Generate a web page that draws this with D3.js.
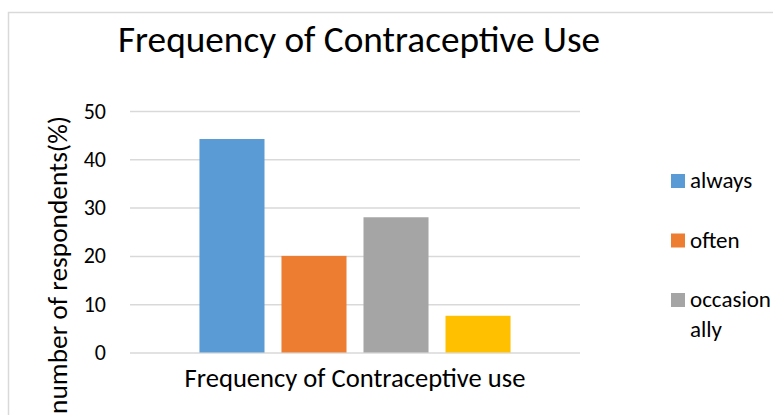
<!DOCTYPE html>
<html>
<head>
<meta charset="utf-8">
<script src="https://cdn.jsdelivr.net/npm/d3@7"></script>
<style>
  html, body { margin: 0; padding: 0; background: #ffffff; }
  svg { display: block; }
  text { font-family: Carlito, Lato, "Open Sans", sans-serif; fill: #000000; }
</style>
</head>
<body>
<svg id="chart" width="773" height="415"></svg>
<script>
// Chart data
const chartTitle = "Frequency of Contraceptive Use";
const yAxisTitle = "number of respondents(%)";
const categories = ["Frequency of Contraceptive use"];
const seriesNames = ["always", "often", "occasionally", "never"];
const seriesValues = [44.2, 20.0, 28.0, 7.6];
const seriesColors = ["#5b9bd5", "#ed7d31", "#a5a5a5", "#ffc000"];
const yTicks = [0, 10, 20, 30, 40, 50];

const svg = d3.select("#chart");

// Outer chart frame (continues past the visible page edge)
svg.append("rect")
  .attr("x", 8.5).attr("y", 12.5)
  .attr("width", 900).attr("height", 600)
  .attr("fill", "#ffffff")
  .attr("stroke", "#d9d9d9")
  .attr("stroke-width", 1.5);

// Scale a text's font size so it spans a given width
function fitWidth(sel, base, target) {
  sel.style("font-size", base + "px");
  const w = sel.node().getComputedTextLength();
  sel.style("font-size", (base * target / w).toFixed(2) + "px");
}

// Plot area
const plot = { left: 130, right: 580, top: 111, bottom: 352.5 };

const y = d3.scaleLinear().domain([0, 50]).range([plot.bottom, plot.top]);
const x0 = d3.scaleBand().domain(categories).range([plot.left, plot.right]);
const x1 = d3.scaleBand().domain(seriesNames)
  .range([0, x0.bandwidth()])
  .paddingInner(0.207)
  .paddingOuter(0.847);

// Gridlines and y tick labels
const yAxis = svg.append("g")
  .attr("transform", `translate(${plot.left},0)`)
  .call(d3.axisLeft(y).tickValues(yTicks).tickSizeInner(-(plot.right - plot.left)).tickSizeOuter(0).tickPadding(24));
yAxis.select(".domain").remove();
yAxis.selectAll(".tick line").attr("stroke", "#d9d9d9").attr("stroke-width", 1.5);
yAxis.selectAll(".tick text")
  .attr("fill", "#000000")
  .style("font-size", "22px")
  .style("font-family", "Carlito, Lato, 'Open Sans', sans-serif");

// Bars
const bars = seriesNames.map((name, i) => ({ cat: categories[0], name, value: seriesValues[i], color: seriesColors[i] }));
svg.append("g").selectAll("rect")
  .data(bars)
  .join("rect")
  .attr("x", d => x0(d.cat) + x1(d.name))
  .attr("y", d => y(d.value))
  .attr("width", x1.bandwidth())
  .attr("height", d => y(0) - y(d.value))
  .attr("fill", d => d.color);

// Category axis label
const xAxis = svg.append("g")
  .attr("transform", `translate(0,${plot.bottom})`)
  .call(d3.axisBottom(x0).tickSize(0).tickPadding(0));
xAxis.select(".domain").remove();
const catText = xAxis.selectAll(".tick text")
  .attr("fill", "#000000")
  .attr("dy", null)
  .attr("y", 387 - plot.bottom)
  .style("font-family", "Carlito, Lato, 'Open Sans', sans-serif");
fitWidth(catText, 24, 341);

// Chart title
const title = svg.append("text")
  .attr("x", 359).attr("y", 52)
  .attr("text-anchor", "middle")
  .text(chartTitle);
fitWidth(title, 34, 482);

// Y axis title
const yTitle = svg.append("text")
  .attr("transform", "translate(67,116) rotate(-90)")
  .attr("text-anchor", "end")
  .text(yAxisTitle);
fitWidth(yTitle, 24, 298);

// Legend: entries that no longer fit inside the legend box are left out
const legend = { x: 671, swatch: 14, textX: 690, maxTextWidth: 90, firstBaseline: 188,
                 lineHeight: 30, gap: 29.5, bottom: 380, fontSize: 23 };
const lg = svg.append("g");

function wrapChars(word, maxW, measure) {
  const lines = [];
  let cur = "";
  for (const ch of word) {
    if (cur && measure(cur + ch) > maxW) { lines.push(cur); cur = ch; }
    else cur += ch;
  }
  if (cur) lines.push(cur);
  return lines;
}
const probe = lg.append("text").style("font-size", legend.fontSize + "px");
const measure = s => { probe.text(s); return probe.node().getComputedTextLength(); };

let baseline = legend.firstBaseline;
seriesNames.forEach((name, i) => {
  const lines = wrapChars(name, legend.maxTextWidth, measure);
  const lastBaseline = baseline + (lines.length - 1) * legend.lineHeight;
  if (lastBaseline > legend.bottom) return;
  lg.append("rect")
    .attr("x", legend.x).attr("y", baseline - 14)
    .attr("width", legend.swatch).attr("height", legend.swatch)
    .attr("fill", seriesColors[i]);
  const t = lg.append("text")
    .attr("x", legend.textX).attr("y", baseline)
    .style("font-size", legend.fontSize + "px");
  lines.forEach((ln, k) => {
    t.append("tspan").attr("x", legend.textX).attr("y", baseline + k * legend.lineHeight).text(ln);
  });
  baseline = lastBaseline + legend.lineHeight + legend.gap;
});
probe.remove();
</script>
</body>
</html>
